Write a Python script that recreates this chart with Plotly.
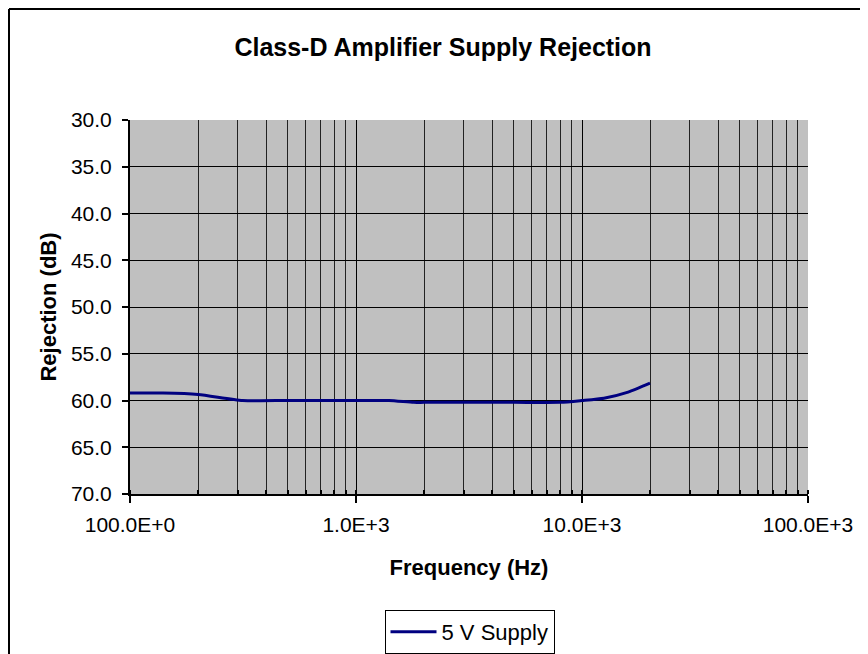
import plotly.graph_objects as go

freq_hz = [100, 140, 200, 315, 500, 1000, 1400, 1800, 2000, 5000, 8000, 10000, 12500, 16000, 20000]
rejection_db = [59.2, 59.2, 59.35, 60.0, 60.0, 60.0, 60.0, 60.2, 60.2, 60.2, 60.2, 60.0, 59.75, 59.1, 58.15]

x_tickvals = [100, 1000, 10000, 100000]
x_ticktext = ["100.0E+0", "1.0E+3", "10.0E+3", "100.0E+3"]
y_tickvals = [30, 35, 40, 45, 50, 55, 60, 65, 70]

FONT = "Liberation Sans, Arial, sans-serif"

fig = go.Figure()
fig.add_trace(go.Scatter(
    x=freq_hz, y=rejection_db, mode="lines", name="5 V Supply",
    line=dict(color="#000080", width=3, shape="spline", smoothing=0.6),
))

# page has an 8px body margin; figure coordinates are reference minus 8
W, H = 860, 646
ml, mr, mt, mb = 122, 60, 112, 160
pw, ph = W - ml - mr, H - mt - mb

fig.update_layout(
    width=W, height=H,
    margin=dict(l=ml, r=mr, t=mt, b=mb, autoexpand=False),
    paper_bgcolor="white", plot_bgcolor="#C0C0C0",
    font=dict(family=FONT, color="black", size=21),
    title=dict(text="<b>Class-D Amplifier Supply Rejection</b>", x=(435 - ml) / pw, xref="paper",
               xanchor="center", y=1 - 39 / H, yanchor="middle", font=dict(size=25)),
    showlegend=True,
    legend=dict(orientation="h", x=(461.5 - ml) / pw, xanchor="center",
                y=-(602 - (H - mb)) / ph, yanchor="top", itemwidth=46,
                bordercolor="black", borderwidth=1, bgcolor="white",
                font=dict(size=22)),
    xaxis=dict(
        type="log", range=[2, 5], automargin=False,
        tickvals=x_tickvals, ticktext=x_ticktext,
        ticks="outside", ticklen=7, tickwidth=2, tickcolor="black",
        ticklabelstandoff=4,
        showline=True, linewidth=2, linecolor="black",
        showgrid=True, gridcolor="black", gridwidth=1,
        zeroline=False,
        minor=dict(dtick="D1", showgrid=True, gridcolor="#222222", gridwidth=1,
                   ticks="inside", ticklen=4, tickwidth=2, tickcolor="black"),
        title=dict(text="<b>Frequency (Hz)</b>", font=dict(size=22), standoff=24),
    ),
    yaxis=dict(
        range=[70, 30], tickvals=y_tickvals, tickformat=".1f", automargin=False,
        ticks="outside", ticklen=6, tickwidth=2, tickcolor="black",
        ticklabelstandoff=6,
        showline=True, linewidth=2, linecolor="black",
        showgrid=True, gridcolor="black", gridwidth=1,
        zeroline=False,
        title=dict(text="<b>Rejection (dB)</b>", font=dict(size=22), standoff=8),
    ),
)

# outer chart frame (only left and top edges are visible in the window)
frame_x0 = (1 - ml) / pw
frame_y1 = 1 + (mt - 1) / ph
fig.add_shape(type="line", xref="paper", yref="paper",
              x0=frame_x0, x1=frame_x0, y0=frame_y1, y1=-(H - (H - mb)) / ph,
              line=dict(color="black", width=2), layer="above")
fig.add_shape(type="line", xref="paper", yref="paper",
              x0=frame_x0, x1=(W - ml) / pw, y0=frame_y1, y1=frame_y1,
              line=dict(color="black", width=2), layer="above")

fig.write_html("out.html")
